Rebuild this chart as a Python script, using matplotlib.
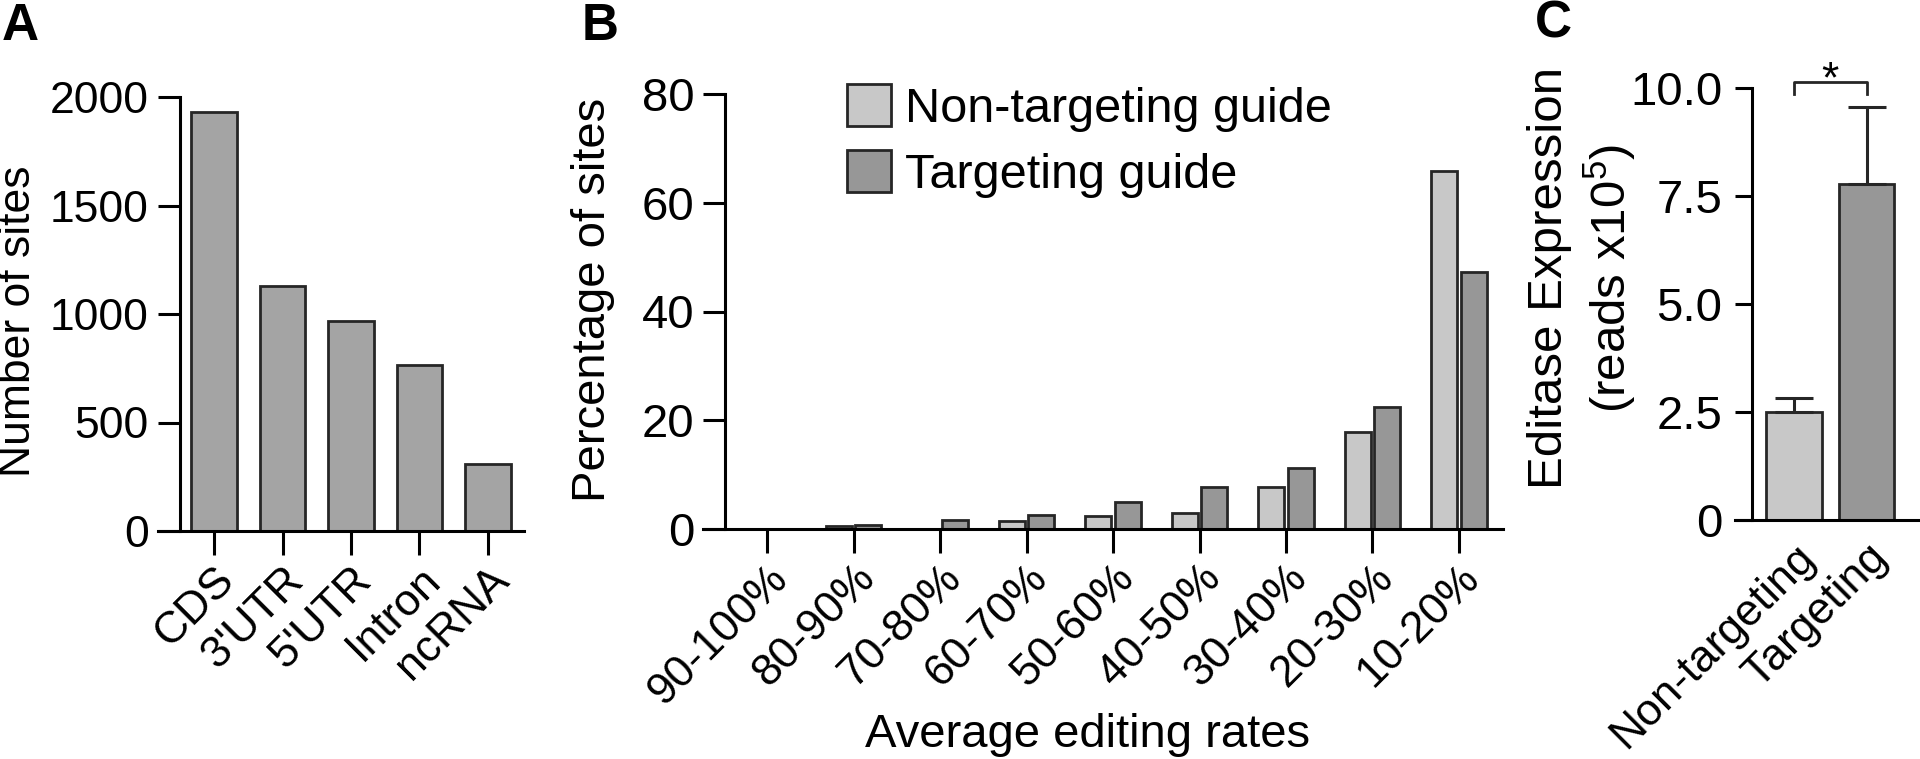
import numpy as np
import matplotlib
matplotlib.use('Agg')
import matplotlib.pyplot as plt
from matplotlib.patches import Patch

plt.rcParams['font.family'] = ['Liberation Sans', 'DejaVu Sans']
plt.rcParams['mathtext.default'] = 'regular'

# A: editing sites per genomic region
regions = ['CDS', "3'UTR", "5'UTR", 'Intron', 'ncRNA']
region_sites = [1929, 1131, 966, 765, 308]

# B: distribution of average editing rates (% of sites)
rate_bins = ['90-100%', '80-90%', '70-80%', '60-70%', '50-60%',
             '40-50%', '30-40%', '20-30%', '10-20%']
nontarget_pct = [0, 0.6, 0, 1.4, 2.4, 2.9, 7.8, 17.9, 65.8]
target_pct = [0, 0.7, 1.6, 2.6, 4.9, 7.8, 11.3, 22.5, 47.3]

# C: editase expression (reads x10^5), mean + SEM
guides = ['Non-targeting', 'Targeting']
editase_mean = [2.51, 7.77]
editase_sem = [0.32, 1.79]

W, H = 1920, 759
fig = plt.figure(figsize=(W / 100, H / 100), dpi=100)

edge = '#262626'
light = '#c8c8c8'
dark = '#979797'
lw = 2.2


def px_axes(left, right, bottom, top):
    return fig.add_axes([left / W, 1 - bottom / H, (right - left) / W, (bottom - top) / H])


def style(ax, spine_x, ymax, ylen, xlen, ypad):
    for s in ['top', 'right']:
        ax.spines[s].set_visible(False)
    ax.spines['left'].set_position(('data', spine_x))
    ax.spines['left'].set_bounds(0, ymax)
    for s in ['left', 'bottom']:
        ax.spines[s].set_linewidth(lw)
        ax.spines[s].set_color('black')
    ax.tick_params(axis='y', length=ylen * 0.72, width=lw, direction='out', pad=ypad)
    ax.tick_params(axis='x', length=xlen * 0.72, width=lw, direction='out', pad=3)


# ---- panel A
axA = px_axes(158, 524, 531, 97)
xa = np.arange(len(regions))
axA.bar(xa, region_sites, width=0.67, color='#a4a4a4', edgecolor=edge, linewidth=2)
axA.set_xlim(-0.818, 4.526)
axA.set_ylim(0, 2000)
style(axA, -0.49, 2000, 22, 24, 7)
axA.set_yticks([0, 500, 1000, 1500, 2000])
axA.tick_params(axis='y', labelsize=32)
axA.set_xticks(xa)
axA.set_xticklabels(regions, rotation=45, ha='right', rotation_mode='anchor', fontsize=32)
axA.set_ylabel('Number of sites', fontsize=32)
axA.yaxis.set_label_coords(-0.325, 0.484)

# ---- panel B
axB = px_axes(702.6, 1503, 529, 94)
xb = np.arange(len(rate_bins))
axB.bar(xb - 0.17, nontarget_pct, width=0.3, color=light, edgecolor=edge, linewidth=2)
axB.bar(xb + 0.17, target_pct, width=0.3, color=dark, edgecolor=edge, linewidth=2)
axB.set_xlim(-0.748, 8.51)
axB.set_ylim(0, 80)
style(axB, -0.494, 80, 22, 24, 6)
axB.set_yticks([0, 20, 40, 60, 80])
axB.tick_params(axis='y', labelsize=34)
axB.set_xticks(xb)
axB.set_xticklabels(rate_bins, rotation=45, ha='right', rotation_mode='anchor', fontsize=32)
axB.set_ylabel('Percentage of sites', fontsize=34)
axB.yaxis.set_label_coords(-0.109, 0.526)
fig.text(1088 / W, 1 - 747 / H, 'Average editing rates', fontsize=34, ha='center', va='baseline')

handles = [Patch(facecolor=light, edgecolor=edge, linewidth=2),
           Patch(facecolor=dark, edgecolor=edge, linewidth=2)]
fig.legend(handles, ['Non-targeting guide', 'Targeting guide'], loc='upper left',
           bbox_to_anchor=(847 / W, 1 - 84 / H), frameon=False, fontsize=35,
           handlelength=0.9, handleheight=0.95, handletextpad=0.3,
           labelspacing=0.38, borderpad=0, borderaxespad=0)

# ---- panel C
axC = px_axes(1735, 1919, 520, 88)
xc = np.arange(len(guides))
axC.bar(xc, editase_mean, width=0.76, color=[light, dark], edgecolor=edge, linewidth=2)
axC.errorbar(xc, editase_mean, yerr=[[0, 0], editase_sem], fmt='none', ecolor=edge,
             elinewidth=2.2, capsize=13.7, capthick=2.2)
axC.set_xlim(-0.814, 1.724)
axC.set_ylim(0, 10)
style(axC, -0.579, 10, 17, 0, 9)
axC.set_yticks([0, 2.5, 5.0, 7.5, 10.0])
axC.set_yticklabels(['0', '2.5', '5.0', '7.5', '10.0'])
axC.tick_params(axis='y', labelsize=34)
axC.tick_params(axis='x', length=0, pad=12)
axC.set_xticks(xc)
axC.set_xticklabels(guides, rotation=45, ha='right', rotation_mode='anchor', fontsize=32)
axC.set_ylabel('Editase Expression\n(reads x10$^5$)', fontsize=35.5, linespacing=1.22)
axC.yaxis.set_label_coords(-0.52, 0.56)
axC.plot([0, 0, 1, 1], [9.86, 10.13, 10.13, 9.86], color=edge, lw=2, clip_on=False)
axC.text(0.5, 9.9, '*', ha='center', va='baseline', fontsize=32, clip_on=False)

# panel letters
fig.text(2 / W, 1 - 2 / H, 'A', fontsize=37, fontweight='bold', va='top')
fig.text(582 / W, 1 - 2 / H, 'B', fontsize=37, fontweight='bold', va='top')
fig.text(1535 / W, 1 - 0 / H, 'C', fontsize=37, fontweight='bold', va='top')

fig.savefig('out.png', dpi=100)
